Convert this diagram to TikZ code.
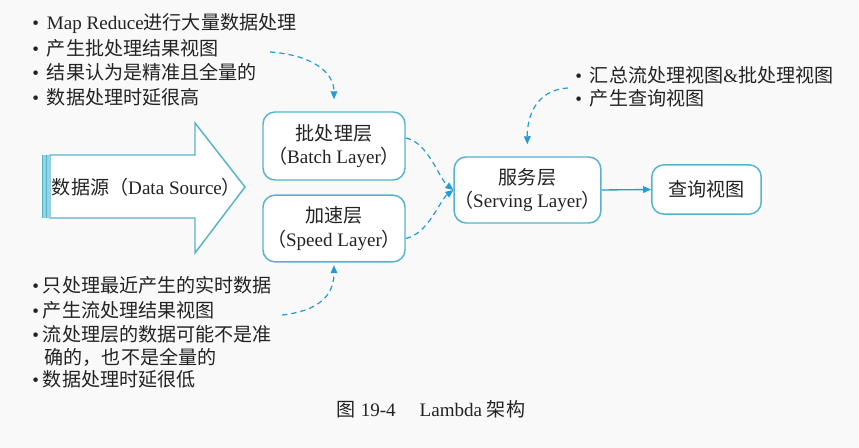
\documentclass[tikz,border=0pt]{standalone}
\usepackage{fontspec}
\setmainfont{Liberation Serif}
\newfontfamily\cjk{Noto Sans CJK SC}
\usetikzlibrary{arrows.meta}
\definecolor{boxc}{RGB}{85,180,204}
\definecolor{arrc}{RGB}{35,155,212}
\definecolor{txt}{RGB}{35,35,35}
\definecolor{bg}{RGB}{249,249,249}
\begin{document}
\begin{tikzpicture}[x=0.75pt,y=-0.75pt,
  every node/.style={text=txt,font=\fontsize{14.3}{16.5}\selectfont},
  layerbox/.style={draw=boxc,line width=1.1pt,rounded corners=9pt,align=center,inner sep=0pt,fill=white},
  bul/.style={anchor=west,inner sep=0pt},
  dasharr/.style={draw=arrc,dashed,dash pattern=on 4pt off 3pt,line width=0.9pt,-{Triangle[length=6pt,width=5pt]}},
  solidarr/.style={draw=arrc,line width=1pt,-{Triangle[length=6pt,width=5pt]}}]
\fill[bg] (0,0) rectangle (859,448);
\useasboundingbox (0,0) rectangle (859,448);

% top bullets
\node[bul] (t1) at (32,24) {\textbullet\hspace{6pt}Map Reduce{\cjk 进行大量数据处理}};
\node[bul] (t2) at (32,48) {\textbullet\hspace{6pt}{\cjk 产生批处理结果视图}};
\node[bul] (t3) at (32,72) {\textbullet\hspace{6pt}{\cjk 结果认为是精准且全量的}};
\node[bul] (t4) at (32,97) {\textbullet\hspace{6pt}{\cjk 数据处理时延很高}};

% data source arrow
\draw[boxc,line width=1.1pt,fill=white] (50,155) -- (195,155) -- (195,123) -- (245,187) -- (195,253) -- (195,218) -- (50,218) -- cycle;
\fill[boxc!60] (42,155) rectangle (50,218);
\draw[boxc,line width=0.8pt] (42.5,155) -- (42.5,218);
\draw[boxc,line width=0.8pt] (46.5,155) -- (46.5,218);
\node (src) at (146.5,187) {\cjk 数据源（{\rmfamily Data Source}）};

% layer boxes
\node[layerbox,minimum width=106.5pt,minimum height=51pt] (batch) at (334,146) {{\cjk 批处理层}\\[1pt]{\cjk （}Batch Layer{\cjk ）}};
\node[layerbox,minimum width=106.5pt,minimum height=50pt] (speed) at (334,228.5) {{\cjk 加速层}\\[1pt]{\cjk （}Speed Layer{\cjk ）}};
\node[layerbox,minimum width=106pt,minimum height=49.5pt] (serve) at (527.5,190) {{\cjk 服务层}\\[1pt]{\cjk （}Serving Layer{\cjk ）}};
\node[layerbox,minimum width=82pt,minimum height=37pt] (query) at (706.5,189.5) {\cjk 查询视图};

% right bullets
\node[bul] (r1) at (575,75) {\textbullet\hspace{6pt}{\cjk 汇总流处理视图}\&{\cjk 批处理视图}};
\node[bul] (r2) at (575,98) {\textbullet\hspace{6pt}{\cjk 产生查询视图}};

% bottom bullets
\node[bul] (b1) at (32,285) {\textbullet\hspace{3pt}{\cjk 只处理最近产生的实时数据}};
\node[bul] (b2) at (32,310) {\textbullet\hspace{3pt}{\cjk 产生流处理结果视图}};
\node[bul] (b3) at (32,334) {\textbullet\hspace{3pt}{\cjk 流处理层的数据可能不是准}};
\node[bul] (b4) at (44.5,357) {\cjk 确的，也不是全量的};
\node[bul] (b5) at (32,379) {\textbullet\hspace{3pt}{\cjk 数据处理时延很低}};

% caption
\node (cap) at (431,409) {{\cjk 图} 19-4\hspace{18pt}Lambda {\cjk 架构}};

% connectors
\coordinate (ts) at (270,52);
\coordinate (rs) at (568,88);
\coordinate (bs) at (282,315);
\draw[dasharr,shorten >=9pt] (ts) .. controls (312,55) and (334,72) .. (batch.north);
\draw[dasharr,shorten >=9pt] (rs) .. controls (535,90) and (527,118) .. (serve.north);
\draw[dasharr] (batch.east) ++(0,-8) .. controls (428,142) and (440,180) .. (serve.west);
\draw[dasharr] (speed.east) ++(0,10) .. controls (428,234) and (440,200) .. (serve.west);
\draw[dasharr,shorten >=2pt] (bs) .. controls (318,311) and (334,296) .. (speed.south);
\draw[solidarr] (serve.east) -- (query.west);
\end{tikzpicture}
\end{document}
